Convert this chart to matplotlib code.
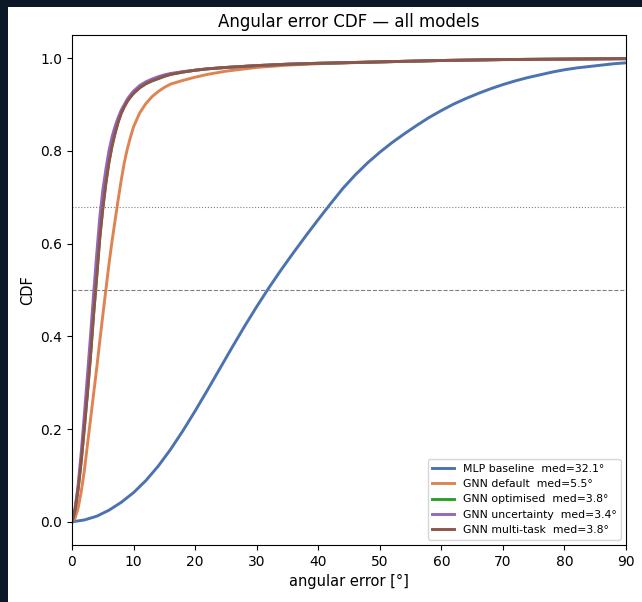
import matplotlib
matplotlib.use("Agg")
import matplotlib.pyplot as plt
from matplotlib.patches import Rectangle

# angular error [deg] and CDF values
mlp_x = [0, 2, 4, 6, 8, 10, 12, 14, 16, 18, 20, 22, 24, 26, 28, 30, 32, 34, 36, 38, 40,
         42, 44, 46, 48, 50, 52, 54, 56, 58, 60, 62, 64, 66, 68, 70, 72, 74, 76, 78, 80,
         82, 84, 86, 88, 90]
mlp_y = [0.0, 0.004, 0.012, 0.025, 0.042, 0.063, 0.089, 0.120, 0.156, 0.196, 0.239, 0.284,
         0.330, 0.376, 0.421, 0.464, 0.505, 0.544, 0.581, 0.617, 0.652, 0.686, 0.719, 0.748,
         0.774, 0.797, 0.818, 0.837, 0.855, 0.872, 0.887, 0.901, 0.913, 0.924, 0.934, 0.943,
         0.951, 0.958, 0.964, 0.970, 0.975, 0.979, 0.982, 0.985, 0.988, 0.990]

gnn_x = [0, 0.5, 1, 1.5, 2, 2.5, 3, 3.5, 4, 4.5, 5, 5.5, 6, 6.5, 7, 7.5, 8, 8.5, 9, 9.5, 10,
         11, 12, 13, 14, 15, 16, 18, 20, 22, 25, 30, 35, 40, 50, 60, 70, 80, 90]
default_y = [0.0, 0.008, 0.03, 0.065, 0.11, 0.165, 0.22, 0.275, 0.33, 0.388, 0.445, 0.50,
             0.555, 0.605, 0.65, 0.695, 0.737, 0.775, 0.805, 0.83, 0.852, 0.882, 0.902,
             0.917, 0.928, 0.937, 0.944, 0.952, 0.959, 0.965, 0.972, 0.980, 0.985, 0.988,
             0.992, 0.995, 0.997, 0.998, 0.999]
optimised_y = [0.0, 0.026, 0.072, 0.133, 0.203, 0.278, 0.358, 0.447, 0.527, 0.611, 0.676,
               0.731, 0.776, 0.811, 0.839, 0.863, 0.882, 0.896, 0.908, 0.917, 0.925, 0.937,
               0.945, 0.951, 0.956, 0.961, 0.965, 0.970, 0.974, 0.977, 0.980, 0.984, 0.987,
               0.989, 0.992, 0.995, 0.997, 0.998, 0.999]
uncertainty_y = [0.0, 0.03, 0.08, 0.15, 0.23, 0.315, 0.40, 0.49, 0.575, 0.655, 0.715, 0.76,
                 0.80, 0.83, 0.853, 0.872, 0.888, 0.90, 0.912, 0.921, 0.929, 0.941, 0.949,
                 0.955, 0.960, 0.964, 0.967, 0.971, 0.974, 0.977, 0.980, 0.984, 0.987, 0.989,
                 0.992, 0.995, 0.997, 0.998, 0.999]
multitask_y = [0.0, 0.025, 0.07, 0.13, 0.20, 0.275, 0.355, 0.445, 0.525, 0.61, 0.675, 0.73,
               0.775, 0.81, 0.838, 0.862, 0.881, 0.895, 0.907, 0.916, 0.924, 0.936, 0.945,
               0.951, 0.956, 0.961, 0.965, 0.970, 0.974, 0.977, 0.980, 0.984, 0.987, 0.989,
               0.992, 0.995, 0.997, 0.998, 0.999]

labels = ["MLP baseline  med=32.1°", "GNN default  med=5.5°", "GNN optimised  med=3.8°",
          "GNN uncertainty  med=3.4°", "GNN multi-task  med=3.8°"]
colors = ["#4C72B0", "#DD8452", "#2ca02c", "#9467bd", "#8c564b"]

fig = plt.figure(figsize=(6.42, 6.02), dpi=100, facecolor="#0c1727")
fig.patches.append(Rectangle((8 / 642, 0), 1, 1 - 7 / 602, transform=fig.transFigure,
                             facecolor="white", edgecolor="none", zorder=-1))
ax = fig.add_axes([72 / 642, 57 / 602, 554 / 642, 510 / 602])

series = [(mlp_x, mlp_y), (gnn_x, default_y), (gnn_x, optimised_y),
          (gnn_x, uncertainty_y), (gnn_x, multitask_y)]
for (xs, ys), lab, c in zip(series, labels, colors):
    ax.plot(xs, ys, color=c, lw=2.1, label=lab)

ax.axhline(0.5, color="gray", ls="--", lw=0.8)
ax.axhline(0.68, color="gray", ls=":", lw=0.8)

ax.set_xlim(0, 90)
ax.set_ylim(-0.05, 1.05)
ax.set_xlabel("angular error [°]", fontsize=10.5)
ax.set_ylabel("CDF", fontsize=10.5)
ax.set_title("Angular error CDF — all models", fontsize=12)
ax.tick_params(labelsize=10)
ax.legend(loc="lower right", fontsize=7.8)

fig.savefig("out.png", dpi=100, facecolor=fig.get_facecolor())
